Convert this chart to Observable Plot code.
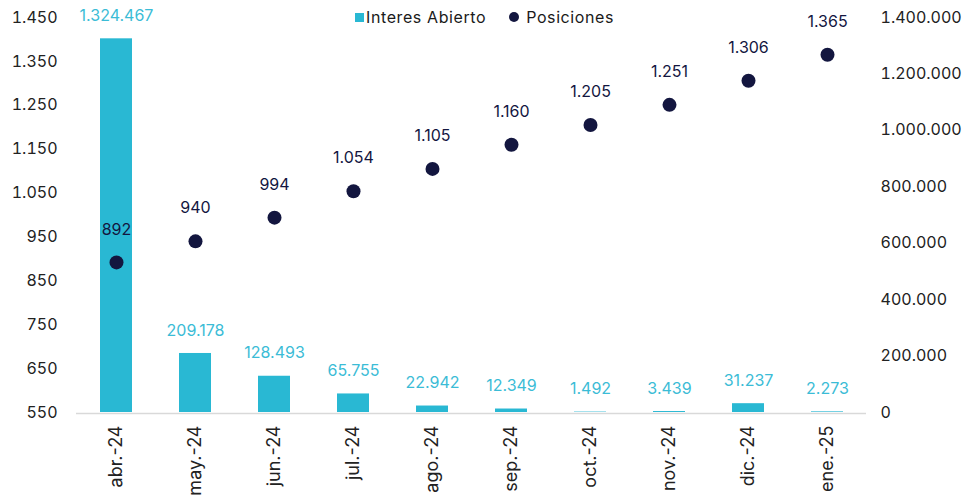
<!DOCTYPE html>
<html>
<head>
<meta charset="utf-8">
<script src="https://cdn.jsdelivr.net/npm/d3@7"></script>
<script src="https://cdn.jsdelivr.net/npm/@observablehq/plot@0.6"></script>
<style>
  body { margin: 0; background: #fff; font-family: Inter, "Noto Sans", sans-serif; }
  #wrap { position: relative; width: 964px; height: 499px; }
  #legend { position: absolute; top: 7px; left: 355px; display: flex; align-items: center; font-size: 16px; color: #1a1a1a; letter-spacing: 0.6px; }
  .sw { display: inline-block; width: 9px; height: 9px; margin-right: 2px; }
  .dot { display: inline-block; width: 10px; height: 10px; border-radius: 50%; margin-right: 7px; margin-left: 23px; }
</style>
</head>
<body>
<div id="wrap">
  <div id="legend">
    <span class="sw" style="background:#29B8D3"></span><span>Interes Abierto</span>
    <span class="dot" style="background:#13163F"></span><span>Posiciones</span>
  </div>
</div>
<script>
const months = ["abr.-24","may.-24","jun.-24","jul.-24","ago.-24","sep.-24","oct.-24","nov.-24","dic.-24","ene.-25"];
const interesAbierto = [1324467, 209178, 128493, 65755, 22942, 12349, 1492, 3439, 31237, 2273];
const posiciones = [892, 940, 994, 1054, 1105, 1160, 1205, 1251, 1306, 1365];
const leftTicks = [550, 650, 750, 850, 950, 1050, 1150, 1250, 1350, 1450];
const rightTicks = [0, 200000, 400000, 600000, 800000, 1000000, 1200000, 1400000];

const leftMin = 550, leftMax = 1450, rightMax = 1400000;
const toLeft = v => leftMin + v / rightMax * (leftMax - leftMin);

const loc = d3.formatLocale({decimal: ",", thousands: ".", grouping: [3], currency: ["", "€"]});
const fmt = loc.format(",d");

const data = months.map((m, i) => ({month: m, ia: interesAbierto[i], iaY: toLeft(interesAbierto[i]), pos: posiciones[i]}));

const cyan = "#29B8D3";
const navy = "#13163F";

const chart = Plot.plot({
  width: 964,
  height: 499,
  marginLeft: 76,
  marginRight: 98,
  marginTop: 17,
  marginBottom: 87,
  style: {fontFamily: "Inter, 'Noto Sans', sans-serif", fontSize: "16px", color: "#222"},
  x: {domain: months, paddingInner: 0.6, paddingOuter: 0.3, label: null},
  y: {domain: [leftMin, leftMax], label: null},
  marks: [
    Plot.ruleY([leftMin], {stroke: "#d9d9d9", strokeWidth: 1.5, dy: 1}),
    Plot.barY(data, {x: "month", y1: leftMin, y2: "iaY", fill: cyan}),
    Plot.axisY({ticks: leftTicks, tickSize: 0, tickPadding: 19, tickFormat: fmt, label: null, fontSize: 16, fill: "#222"}),
    Plot.axisY({anchor: "right", ticks: rightTicks.map(toLeft), tickSize: 0, tickPadding: 14, textAnchor: "start",
      tickFormat: (d, i) => fmt(rightTicks[i]), label: null, fontSize: 16, fill: "#222"}),
    Plot.axisX({tickSize: 0, tickPadding: 13, tickRotate: -90, label: null, fontSize: 18, fill: "#222"}),
    Plot.text(data, {x: "month", y: "iaY", text: d => fmt(d.ia), dy: -23, fill: "#3BBCD6", fontSize: 16}),
    Plot.dot(data, {x: "month", y: "pos", r: 7, fill: navy}),
    Plot.text(data, {x: "month", y: "pos", text: d => fmt(d.pos), dy: -33, fill: navy, fontSize: 16})
  ]
});
document.getElementById("wrap").prepend(chart);
</script>
</body>
</html>
